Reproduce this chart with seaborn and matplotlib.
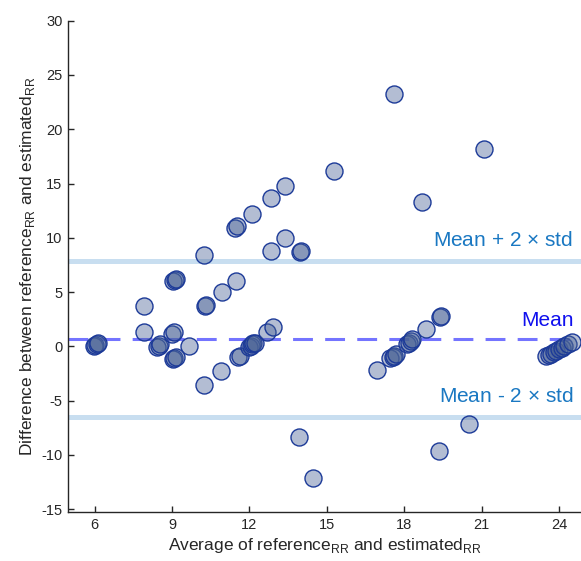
import numpy as np
import pandas as pd
import matplotlib
matplotlib.use("Agg")
import matplotlib.pyplot as plt
import seaborn as sns

# ---- data ----
avg_rr = [5.98, 6.03, 6.08, 6.12,
          7.92, 7.91,
          8.40, 8.48, 8.55,
          9.05, 9.10, 9.15,
          9.00, 9.08,
          9.02, 9.08, 9.14,
          9.67,
          10.24,
          10.27, 10.32,
          10.25,
          10.92, 11.47, 10.90,
          11.55, 11.62,
          11.98, 12.05, 12.10, 12.15, 12.20,
          12.69, 12.90,
          12.82, 13.39,
          13.95, 13.99,
          11.43, 11.53,
          12.09, 12.85, 13.38, 15.29, 17.60, 21.09, 18.67, 13.94, 14.48, 19.34, 20.51,
          16.93,
          17.45, 17.55, 17.62, 17.70,
          18.10, 18.18, 18.25, 18.32,
          18.83,
          19.40, 19.44,
          23.50, 23.60, 23.70, 23.80, 23.90, 24.00, 24.10, 24.20, 24.35, 24.50]
diff_rr = [0.00, 0.10, 0.20, 0.28,
           3.75, 1.33,
           -0.05, 0.08, 0.20,
           6.05, 6.15, 6.25,
           1.15, 1.30,
           -1.20, -1.10, -0.98,
           0.04,
           8.41,
           3.70, 3.80,
           -3.59,
           4.97, 6.05, -2.30,
           -0.98, -0.86,
           -0.05, 0.08, 0.18, 0.28, 0.35,
           1.29, 1.75,
           8.81, 9.98,
           8.70, 8.78,
           10.90, 11.10,
           12.18, 13.71, 14.76, 16.20, 23.25, 18.19, 13.32, -8.31, -12.14, -9.60, -7.12,
           -2.21,
           -1.10, -0.95, -0.85, -0.70,
           0.20, 0.35, 0.50, 0.65,
           1.60,
           2.70, 2.82,
           -0.92, -0.79, -0.66, -0.53, -0.40, -0.27, -0.13, 0.00, 0.19, 0.39]
mean_diff = 0.67
std_diff = 3.58
x_ticks = [6, 9, 12, 15, 18, 21, 24]
y_ticks = [-15, -10, -5, 0, 5, 10, 15, 20, 25, 30]

df = pd.DataFrame({"avg": avg_rr, "diff": diff_rr})

sns.set_style("white")
plt.rcParams['font.family'] = ['Liberation Sans', 'DejaVu Sans']
plt.rcParams['mathtext.fontset'] = 'custom'
plt.rcParams['mathtext.rm'] = 'Liberation Sans'
plt.rcParams['axes.unicode_minus'] = False

fig = plt.figure(figsize=(5.81, 5.61), dpi=100)
ax = fig.add_axes([68 / 581, 49 / 561, 1 - 68 / 581, (512 - 20.7) / 561])

upper = mean_diff + 2 * std_diff
lower = mean_diff - 2 * std_diff
ax.axhline(upper, color='#c8def0', lw=3.6, zorder=1)
ax.axhline(lower, color='#c8def0', lw=3.6, zorder=1)
ax.axhline(mean_diff, color='#7474ff', lw=2.2, ls=(0, (6.5, 4.0)), zorder=1)

sns.scatterplot(data=df, x="avg", y="diff", ax=ax, s=150,
                facecolor=(0.29, 0.39, 0.59, 0.42), edgecolor='#1c3a98',
                linewidth=1.0, zorder=3, legend=False)

ax.text(24.55, 9.73, r"Mean + 2 $\times$ std", color='#1a78c2', fontsize=15,
        ha='right', va='center')
ax.text(24.55, 2.37, "Mean", color='#1010ee', fontsize=15, ha='right', va='center')
ax.text(24.55, -4.63, r"Mean - 2 $\times$ std", color='#1a78c2', fontsize=15,
        ha='right', va='center')

ax.set_xlim(4.97, 24.85)
ax.set_ylim(-15.25, 30)
ax.set_xticks(x_ticks)
ax.set_yticks(y_ticks)
ax.tick_params(direction='in', length=4, width=1, colors='#262626', labelsize=10.5,
               bottom=True, left=True, pad=4)
for s in ['top', 'right']:
    ax.spines[s].set_visible(False)
for s in ['left', 'bottom']:
    ax.spines[s].set_color('#262626')
    ax.spines[s].set_linewidth(1.0)

ax.set_xlabel(r"Average of reference$_{\mathrm{RR}}$ and estimated$_{\mathrm{RR}}$",
              fontsize=12.5, color='#262626', labelpad=3)
ax.set_ylabel(r"Difference between reference$_{\mathrm{RR}}$ and estimated$_{\mathrm{RR}}$",
              fontsize=12.5, color='#262626', labelpad=3)

fig.savefig("out.png", dpi=100)
